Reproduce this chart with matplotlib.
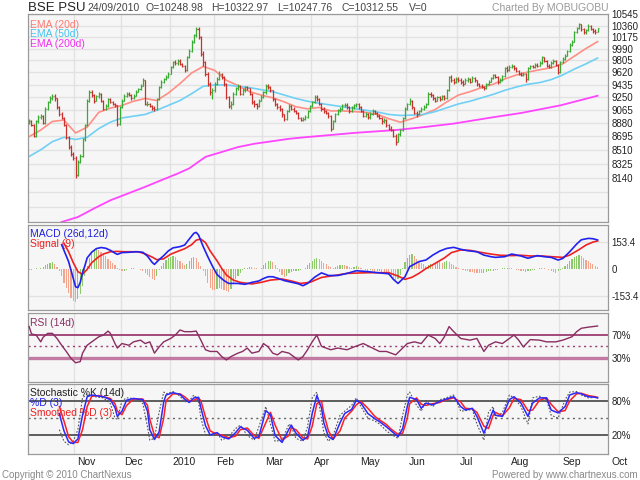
import matplotlib
matplotlib.use('Agg')
import matplotlib.pyplot as plt
from matplotlib.ticker import NullLocator
import matplotlib.transforms as mtransforms

plt.rcParams['font.family'] = ['Liberation Sans', 'DejaVu Sans']

W, H = 640, 480

# month labels and the first bar index of each month
months = ['Nov', 'Dec', '2010', 'Feb', 'Mar', 'Apr', 'May', 'Jun', 'Jul', 'Aug', 'Sep', 'Oct']
month_start = [20, 40, 61, 80, 101, 122, 142, 163, 185, 207, 229, 250]

# daily closes, one list per month (Oct 2009 .. 24 Sep 2010)
close_oct = [8900, 8850, 8700, 8900, 8960, 8980, 8880, 9080, 9180, 9230,
             9270, 9230, 9100, 9000, 8950, 8850, 8680, 8550, 8450, 8400]
close_nov = [8180, 8350, 8420, 8650, 8850, 9200, 9330, 9280, 9200, 9260,
             9300, 9200, 9080, 9120, 9220, 9180, 9150, 9130, 8860, 9100]
close_dec = [9200, 9270, 9300, 9280, 9230, 9270, 9330, 9370, 9420, 9500,
             9150, 9150, 9120, 9090, 9080, 9220, 9400, 9480, 9520, 9550, 9600]
close_jan = [9700, 9780, 9760, 9800, 9750, 9720, 9650, 9850, 9950, 10100,
             10200, 10300, 10180, 9900, 9780, 9600, 9450, 9320, 9350]
close_feb = [9450, 9520, 9600, 9550, 9450, 9250, 9120, 9150, 9300, 9380,
             9420, 9300, 9350, 9400, 9380, 9300, 9180, 9150, 9120, 9200, 9250]
close_mar = [9320, 9420, 9400, 9350, 9220, 9150, 9100, 9080, 9000, 8930,
             9050, 9120, 9080, 9050, 9020, 8950, 8920, 8930, 8960, 9050, 9120]
close_apr = [9180, 9250, 9220, 9150, 9080, 9050, 9020, 8980, 8800, 8900,
             9000, 9060, 9080, 9130, 9140, 9100, 9050, 9100, 9130, 9150]
close_may = [9100, 9050, 8980, 9000, 8960, 9000, 9050, 9020, 8980, 8950,
             8900, 8920, 8850, 8800, 8780, 8700, 8620, 8720, 8780, 8950, 9080]
close_jun = [9150, 9200, 9100, 9020, 9000, 9050, 9080, 9100, 9150, 9300, 9280,
             9230, 9200, 9250, 9220, 9260, 9230, 9350, 9550, 9500, 9480, 9520]
close_jul = [9500, 9480, 9450, 9500, 9520, 9480, 9530, 9500, 9440, 9420, 9400,
             9380, 9440, 9480, 9530, 9580, 9550, 9470, 9500, 9560, 9680, 9650]
close_aug = [9700, 9720, 9680, 9640, 9600, 9580, 9600, 9520, 9680, 9720, 9700,
             9740, 9720, 9760, 9850, 9800, 9720, 9700, 9760, 9800, 9740, 9620]
close_sep = [9780, 9830, 9880, 9950, 10050, 10100, 10250, 10320, 10380, 10300,
             10250, 10280, 10350, 10300, 10270, 10248.98, 10312.55]

high_oct = [8940, 8920, 8870, 8920, 8990, 9010, 8990, 9100, 9200, 9260,
            9300, 9290, 9240, 9120, 9030, 8960, 8860, 8700, 8570, 8480]
high_nov = [8420, 8370, 8450, 8670, 8870, 9220, 9360, 9350, 9290, 9280,
            9330, 9310, 9210, 9150, 9240, 9240, 9200, 9170, 9140, 9120]
high_dec = [9220, 9290, 9320, 9330, 9290, 9290, 9350, 9390, 9440, 9530,
            9510, 9190, 9170, 9140, 9120, 9240, 9420, 9500, 9540, 9580, 9630]
high_jan = [9720, 9800, 9810, 9830, 9820, 9770, 9730, 9870, 9980, 10120,
            10230, 10340, 10330, 10190, 9950, 9800, 9620, 9470, 9380]
high_feb = [9480, 9550, 9640, 9610, 9560, 9460, 9270, 9190, 9320, 9400,
            9440, 9430, 9380, 9420, 9420, 9390, 9310, 9210, 9170, 9220, 9280]
high_mar = [9340, 9450, 9450, 9420, 9360, 9240, 9170, 9130, 9090, 9010,
            9070, 9150, 9140, 9100, 9070, 9030, 8970, 8960, 8990, 9070, 9140]
high_apr = [9200, 9280, 9280, 9230, 9160, 9100, 9070, 9040, 8990, 8920,
            9020, 9080, 9110, 9150, 9170, 9160, 9120, 9120, 9150, 9170]
high_may = [9160, 9120, 9060, 9040, 9020, 9030, 9080, 9070, 9040, 9000,
            8960, 8950, 8930, 8870, 8830, 8790, 8720, 8740, 8800, 8970, 9100]
high_jun = [9170, 9230, 9210, 9110, 9050, 9070, 9110, 9130, 9170, 9320, 9330,
            9290, 9250, 9270, 9270, 9280, 9280, 9370, 9570, 9580, 9530, 9550]
high_jul = [9550, 9530, 9500, 9530, 9550, 9540, 9560, 9550, 9510, 9460, 9450,
            9420, 9460, 9500, 9550, 9600, 9600, 9560, 9530, 9580, 9700, 9710]
high_aug = [9730, 9750, 9740, 9700, 9660, 9620, 9630, 9610, 9700, 9740, 9740,
            9760, 9770, 9790, 9870, 9860, 9810, 9750, 9790, 9830, 9810, 9750]
high_sep = [9800, 9850, 9900, 9970, 10070, 10130, 10270, 10340, 10400, 10390,
            10320, 10310, 10380, 10370, 10320, 10300, 10322.97]

low_oct = [8860, 8830, 8680, 8690, 8880, 8940, 8860, 8870, 9060, 9160,
           9210, 9200, 9080, 8980, 8930, 8830, 8660, 8520, 8420, 8370]
low_nov = [8140, 8170, 8330, 8410, 8630, 8840, 9180, 9250, 9170, 9190,
           9240, 9180, 9060, 9060, 9110, 9160, 9130, 9110, 8840, 8850]
low_dec = [9090, 9190, 9250, 9260, 9210, 9220, 9260, 9320, 9360, 9410,
           9130, 9120, 9100, 9070, 9050, 9070, 9210, 9390, 9460, 9500, 9540]
low_jan = [9590, 9690, 9730, 9740, 9730, 9700, 9630, 9640, 9840, 9940,
           10080, 10180, 10150, 9880, 9720, 9560, 9420, 9280, 9220]
low_feb = [9330, 9430, 9500, 9520, 9420, 9220, 9090, 9080, 9140, 9280,
           9350, 9280, 9280, 9330, 9350, 9280, 9150, 9110, 9080, 9100, 9190]
low_mar = [9240, 9300, 9370, 9330, 9200, 9120, 9080, 9050, 8970, 8910,
           8920, 9040, 9060, 9030, 9000, 8930, 8900, 8900, 8920, 8950, 9040]
low_apr = [9100, 9170, 9190, 9130, 9050, 9020, 9000, 8950, 8770, 8790,
           8890, 8990, 9040, 9070, 9110, 9080, 9020, 9040, 9080, 9110]
low_may = [9080, 9030, 8960, 8960, 8940, 8940, 8990, 9000, 8960, 8930,
           8870, 8880, 8820, 8780, 8760, 8680, 8580, 8610, 8700, 8770, 8940]
low_jun = [9060, 9130, 9080, 9000, 8970, 8990, 9030, 9060, 9090, 9140, 9250,
           9210, 9180, 9190, 9200, 9210, 9210, 9220, 9340, 9470, 9450, 9460]
low_jul = [9470, 9450, 9420, 9440, 9480, 9460, 9470, 9480, 9420, 9400, 9380,
           9350, 9370, 9430, 9470, 9520, 9530, 9450, 9460, 9490, 9550, 9630]
low_aug = [9640, 9690, 9660, 9620, 9580, 9560, 9560, 9480, 9510, 9670, 9680,
           9690, 9700, 9710, 9750, 9780, 9700, 9680, 9690, 9750, 9720, 9590]
low_sep = [9610, 9770, 9810, 9870, 9940, 10030, 10090, 10240, 10300, 10270,
           10220, 10230, 10270, 10280, 10240, 10230, 10247.76]

first_open = 8880

closes = (close_oct + close_nov + close_dec + close_jan + close_feb + close_mar +
          close_apr + close_may + close_jun + close_jul + close_aug + close_sep)
highs = (high_oct + high_nov + high_dec + high_jan + high_feb + high_mar +
         high_apr + high_may + high_jun + high_jul + high_aug + high_sep)
lows = (low_oct + low_nov + low_dec + low_jan + low_feb + low_mar +
        low_apr + low_may + low_jun + low_jul + low_aug + low_sep)
opens = [first_open] + closes[:-1]

# moving averages
ema_idx = list(range(0, 246, 5))
ema20 = [8690, 8780, 8900, 8920, 8740, 8820, 9030, 9090, 9130, 9190,
         9230, 9200, 9310, 9450, 9610, 9710, 9650, 9500, 9420, 9330,
         9280, 9240, 9180, 9110, 9080, 9100, 9050, 9050, 9040, 9030,
         9000, 8940, 8890, 8940, 9000, 9070, 9180, 9280, 9330, 9390,
         9440, 9520, 9580, 9625, 9660, 9690, 9750, 9870, 9990, 10100]
ema50 = [8420, 8510, 8620, 8680, 8650, 8680, 8800, 8890, 8950, 8975,
         9000, 9060, 9130, 9200, 9300, 9410, 9430, 9430, 9410, 9390,
         9360, 9330, 9280, 9230, 9190, 9160, 9135, 9110, 9085, 9060,
         9035, 9000, 8985, 8990, 9000, 9040, 9095, 9150, 9190, 9240,
         9290, 9350, 9400, 9440, 9465, 9510, 9580, 9670, 9750, 9840]
ema200_idx = [14, 21, 28, 35, 43, 50, 57, 64, 69, 76, 83, 90, 97, 105, 112,
              119, 126, 140, 158, 170, 183, 200, 212, 229, 245]
ema200 = [7590, 7650, 7755, 7855, 7945, 8025, 8110, 8195, 8263, 8415, 8480,
          8546, 8591, 8627, 8659, 8681, 8700, 8740, 8780, 8820, 8870, 8960,
          9020, 9130, 9270]

price_ticks = [10545, 10360, 10175, 9990, 9805, 9620, 9435, 9250, 9065,
               8880, 8695, 8510, 8325, 8140]
extra_grid = [7955, 7770]

# MACD
macd_idx = [14, 17, 19, 20, 21, 22, 23, 24, 25, 27, 29, 31, 33, 35, 37, 38, 40, 43,
            46, 49, 51, 53, 54, 56, 58, 60, 62, 65, 67, 69, 71, 72, 73, 75, 77, 79,
            81, 84, 86, 90, 93, 96, 99, 101, 103, 105, 107, 110, 113, 116, 118, 120,
            123, 126, 129, 133, 137, 141, 146, 150, 155, 157, 159, 162, 164, 168,
            171, 174, 177, 180, 183, 186, 189, 193, 196, 199, 201, 205, 208, 212,
            215, 219, 222, 225, 228, 230, 233, 236, 238, 241, 243, 245]
macd_val = [140, 44, -51, -99, -104, -75, -20, 20, 65, 98, 118, 124, 120, 108, 92,
            85, 95, 97, 100, 97, 75, 40, 28, 55, 78, 105, 122, 129, 138, 172, 205,
            210, 195, 130, 72, 18, -30, -64, -80, -80, -85, -74, -66, -52, -42, -42,
            -50, -64, -73, -82, -93, -80, -45, -20, -35, -35, -23, -8, -13, -19, -25,
            -57, -80, -42, 15, 44, 53, 81, 104, 119, 125, 114, 106, 100, 81, 72, 68,
            72, 87, 76, 63, 78, 72, 68, 53, 62, 100, 144, 168, 176, 174, 167]
signal_idx = [15, 17, 19, 21, 23, 25, 27, 30, 32, 35, 38, 41, 44, 47, 50, 53, 55,
              58, 61, 64, 67, 70, 72, 74, 76, 78, 81, 83, 85, 88, 91, 96, 100, 104,
              109, 113, 117, 121, 126, 129, 133, 137, 146, 155, 159, 162, 165, 168,
              171, 175, 179, 182, 186, 190, 194, 199, 203, 208, 212, 216, 221, 225,
              230, 233, 237, 240, 243, 245]
signal_val = [148, 100, 38, -13, -28, 0, 38, 72, 87, 100, 102, 100, 100, 100, 88,
              70, 55, 60, 86, 102, 117, 140, 166, 172, 152, 105, 48, 5, -32, -61,
              -74, -83, -74, -61, -55, -66, -80, -74, -46, -40, -32, -23, -19, -19,
              -38, -57, -45, -23, 4, 34, 65, 95, 110, 108, 98, 87, 80, 78, 80, 76,
              76, 72, 68, 81, 112, 138, 155, 161]
macd_hist = [-3, -2, 2, 5, 3, 8, 15, 22, 30, 38,
             40, 30, 12, -10, -40, -75, -105, -135, -160, -180,
             -185, -170, -140, -95, -40, 20, 65, 95, 110, 115,
             112, 100, 88, 75, 60, 48, 35, 22, 8, -5,
             -12, -10, -4, 2, 5, 6, 4, 3, -2, -8,
             -20, -32, -45, -55, -62, -40, -5, 20, 38, 52,
             65, 72, 75, 70, 55, 45, 35, 25, 32, 50,
             65, 72, 62, 40, 20, -10, -40, -75, -105, -118,
             -120, -112, -105, -110, -120, -125, -128, -110, -80, -55,
             -35, -18, -5, 5, 10, 15, 14, 10, 6, 2,
             8, 22, 38, 46, 48, 40, 25, 5, -15, -30,
             -42, -35, -20, -15, -12, -10, -8, -5, 0, 8,
             22, 38, 50, 60, 64, 58, 45, 35, 28, 20,
             15, 10, 12, 18, 22, 25, 22, 18, 12, 10,
             14, 18, 15, 8, 2, -5, -8, -6, -10, -14,
             -12, -10, -14, -20, -25, -30, -40, -50, -58, -55,
             -30, 5, 40, 65, 80, 85, 75, 60, 45, 35,
             28, 20, 25, 30, 28, 32, 36, 40, 38, 42,
             45, 40, 32, 24, 16, 8, 2, -4, -8, -12,
             -14, -16, -18, -20, -22, -22, -18, -15, -12, -10,
             -8, -5, -2, 3, 6, 8, 10, 8, 5, 2,
             -2, -6, -10, -12, -14, -12, -8, -5, -2, 3,
             6, 8, 5, 2, -3, -8, -14, -18, -12, -3,
             8, 20, 32, 45, 58, 70, 78, 82, 75, 65,
             55, 45, 35, 28, 20, 14]

# RSI
rsi_idx = [0, 1, 3, 5, 6, 8, 10, 12, 14, 16, 18, 20, 22, 23, 25, 28, 30, 32, 34,
           35, 37, 38, 40, 43, 45, 48, 50, 52, 54, 56, 58, 61, 63, 65, 67, 70, 72,
           74, 76, 78, 81, 83, 85, 87, 90, 92, 94, 96, 99, 101, 103, 105, 107, 109,
           112, 114, 116, 118, 120, 122, 124, 126, 128, 130, 133, 137, 140, 144,
           147, 151, 154, 158, 161, 163, 166, 169, 172, 175, 177, 179, 181, 183,
           186, 190, 193, 196, 198, 201, 204, 206, 209, 211, 213, 216, 220, 223,
           227, 230, 234, 236, 238, 241, 243, 245]
rsi_val = [85, 72, 70, 58, 66, 73, 73, 64, 52, 41, 29, 21, 23, 38, 52, 61, 67, 70,
           77, 73, 55, 47, 55, 52, 58, 61, 55, 58, 38, 49, 58, 64, 70, 79, 76, 76,
           77, 61, 44, 41, 41, 32, 26, 32, 38, 41, 47, 38, 41, 55, 49, 38, 35, 41,
           38, 32, 26, 32, 44, 58, 70, 50, 47, 44, 47, 44, 49, 55, 49, 41, 41, 35,
           47, 55, 58, 55, 70, 64, 55, 67, 85, 76, 64, 61, 64, 41, 52, 58, 55, 61,
           70, 61, 49, 62, 61, 58, 58, 61, 67, 76, 82, 84, 85, 86]

# Stochastic
stoch_idx = [13, 15, 17, 19, 21, 23, 25, 27, 30, 32, 35, 37, 38, 40, 42, 45, 47,
             49, 51, 52, 54, 56, 58, 59, 62, 65, 67, 69, 71, 73, 74, 76, 78, 81,
             83, 86, 89, 91, 94, 97, 99, 102, 104, 106, 109, 112, 113, 115, 118,
             120, 122, 124, 126, 127, 129, 131, 134, 136, 139, 141, 143, 146, 149,
             151, 154, 156, 159, 161, 163, 164, 167, 169, 171, 174, 177, 179, 183,
             186, 188, 191, 193, 196, 198, 200, 201, 204, 207, 209, 212, 215, 217,
             220, 223, 225, 228, 231, 233, 236, 238, 241, 244, 245]
pct_k = [30, 10, 4, 10, 30, 85, 92, 88, 86, 85, 75, 50, 48, 80, 85, 84, 82, 75,
         35, 12, 15, 60, 95, 92, 96, 88, 78, 80, 90, 80, 50, 22, 20, 25, 12, 18,
         32, 38, 20, 12, 35, 70, 40, 10, 12, 40, 35, 15, 10, 35, 85, 95, 50, 25,
         10, 20, 55, 62, 72, 85, 70, 50, 45, 40, 28, 22, 15, 55, 90, 95, 72, 62,
         80, 70, 82, 84, 90, 62, 63, 65, 40, 12, 60, 70, 50, 60, 90, 85, 70, 40,
         85, 88, 82, 55, 50, 82, 95, 96, 90, 85, 86, 84]
pct_d = [58, 28, 9, 6, 14, 55, 87, 90, 88, 87, 82, 68, 53, 62, 81, 84, 83, 82,
         62, 30, 13, 26, 78, 90, 94, 91, 83, 77, 85, 86, 68, 37, 21, 25, 18, 14,
         25, 35, 29, 15, 18, 63, 56, 20, 8, 31, 38, 24, 12, 18, 58, 89, 68, 42,
         18, 13, 42, 58, 65, 81, 76, 58, 49, 44, 35, 28, 18, 32, 70, 86, 82, 67,
         76, 73, 79, 82, 87, 70, 64, 67, 53, 24, 44, 64, 55, 53, 82, 87, 76, 53,
         76, 85, 85, 64, 59, 70, 90, 94, 92, 87, 86, 85]
smooth_d = [70, 45, 18, 8, 8, 30, 70, 88, 89, 87, 84, 75, 62, 56, 72, 83, 83, 83,
            72, 48, 20, 16, 50, 80, 92, 92, 87, 80, 81, 85, 80, 52, 28, 22, 21, 16,
            19, 30, 33, 20, 15, 42, 60, 38, 12, 20, 33, 30, 16, 14, 36, 75, 80, 58,
            28, 14, 28, 50, 62, 73, 79, 67, 53, 47, 39, 31, 22, 24, 50, 75, 85, 74,
            72, 75, 77, 81, 85, 78, 67, 66, 60, 36, 32, 55, 60, 54, 68, 84, 82, 63,
            64, 81, 85, 74, 61, 63, 80, 92, 93, 89, 87, 86]


def rect(top, bottom):
    return [28 / W, 1 - bottom / H, 580 / W, (bottom - top) / H]


fig = plt.figure(figsize=(6.4, 4.8), dpi=100)
fig.patch.set_facecolor('white')

ax_p = fig.add_axes(rect(13.5, 222))
ax_m = fig.add_axes(rect(225, 310))
ax_r = fig.add_axes(rect(313, 382))
ax_s = fig.add_axes(rect(384, 454))

for ax in (ax_p, ax_m, ax_r, ax_s):
    ax.set_facecolor('#f6f6f6')
    ax.set_xlim(-0.5, 249.5)
    for s in ax.spines.values():
        s.set_color('#9a9a9a')
        s.set_linewidth(0.9)
    for m in month_start[:-1]:
        ax.axvline(m - 0.5, color='#e2e2e2', lw=1, zorder=0)
    ax.set_xticks([])
    ax.yaxis.tick_right()
    ax.tick_params(axis='y', length=0, pad=2.5, labelsize=7, labelcolor='#222222')

# price panel
x = list(range(len(closes)))
ax_p.set_yscale('log')
ax_p.set_ylim(7590, 10560)
ax_p.yaxis.set_minor_locator(NullLocator())
ax_p.set_yticks(price_ticks)
ax_p.set_yticklabels([str(t) for t in price_ticks])
for lvl in price_ticks + extra_grid:
    ax_p.axhline(lvl, color='#e2e2e2', lw=1, zorder=0)

bar_col = ['#3aaa35' if c >= o else '#c8302c' for o, c in zip(opens, closes)]
ax_p.vlines(x, lows, highs, colors=bar_col, lw=0.9, zorder=3)
ax_p.hlines(opens, [i - 0.45 for i in x], x, colors=bar_col, lw=0.9, zorder=3)
ax_p.hlines(closes, x, [i + 0.45 for i in x], colors=bar_col, lw=0.9, zorder=3)

ax_p.plot(ema_idx, ema20, color='#ff8f86', lw=1.2, zorder=2)
ax_p.plot(ema_idx, ema50, color='#70d0f5', lw=1.2, zorder=2)
ax_p.plot(ema200_idx, ema200, color='#ff45ff', lw=1.3, zorder=2)

ax_p.text(0.004, 0.97, 'EMA (20d)', transform=ax_p.transAxes, color='#ff7a72',
          fontsize=7.5, va='top')
ax_p.text(0.004, 0.925, 'EMA (50d)', transform=ax_p.transAxes, color='#45c3ee',
          fontsize=7.5, va='top')
ax_p.text(0.004, 0.878, 'EMA (200d)', transform=ax_p.transAxes, color='#f030f0',
          fontsize=7.5, va='top')

# MACD panel
ax_m.set_ylim(-231, 252)
ax_m.set_yticks([153.4, 0, -153.4])
ax_m.set_yticklabels(['153.4', '0', '-153.4'])
for lvl in (153.4, -153.4):
    ax_m.axhline(lvl, color='#e2e2e2', lw=1, zorder=0)
hist_col = ['#8cc96a' if (i > 0 and v > macd_hist[i - 1]) else '#f2a58c'
            for i, v in enumerate(macd_hist)]
ax_m.bar(x, macd_hist, width=0.5, color=hist_col, zorder=2)
ax_m.plot(signal_idx, signal_val, color='#ee2222', lw=1.2, zorder=3)
ax_m.plot(macd_idx, macd_val, color='#2222ee', lw=1.2, zorder=4)
ax_m.text(0.004, 0.95, 'MACD (26d,12d)', transform=ax_m.transAxes, color='#2020dd',
          fontsize=7.5, va='top')
ax_m.text(0.004, 0.83, 'Signal (9)', transform=ax_m.transAxes, color='#ee2020',
          fontsize=7.5, va='top')

# RSI panel
ax_r.set_ylim(-13, 109)
ax_r.set_yticks([70, 30])
ax_r.set_yticklabels(['70%', '30%'])
ax_r.axhline(70, color='#9b3c72', lw=1.3, zorder=2)
ax_r.axhline(30, color='#c27aa3', lw=2.4, zorder=2)
ax_r.axhline(50, color='#9b3c72', lw=1.0, ls=(0, (1.5, 2.5)), zorder=2)
ax_r.plot(rsi_idx, rsi_val, color='#8a2d62', lw=1.0, zorder=3)
ax_r.text(0.004, 0.93, 'RSI (14d)', transform=ax_r.transAxes, color='#8a2d62',
          fontsize=7.5, va='top')

# Stochastic panel
ax_s.set_ylim(-12, 109)
ax_s.set_yticks([80, 20])
ax_s.set_yticklabels(['80%', '20%'])
ax_s.axhline(80, color='#444444', lw=1.2, zorder=2)
ax_s.axhline(20, color='#444444', lw=1.2, zorder=2)
ax_s.axhline(50, color='#666666', lw=1.0, ls=(0, (1.5, 2.5)), zorder=2)
ax_s.plot(stoch_idx, pct_k, color='#555555', lw=0.8, ls=(0, (1.5, 1.5)), zorder=3)
ax_s.plot(stoch_idx, smooth_d, color='#ff2020', lw=1.1, zorder=4)
ax_s.plot(stoch_idx, pct_d, color='#2a2aff', lw=1.1, zorder=5)
ax_s.text(0.004, 0.95, 'Stochastic %K (14d)', transform=ax_s.transAxes,
          color='#222222', fontsize=7.5, va='top')
ax_s.text(0.004, 0.80, '%D (3)', transform=ax_s.transAxes, color='#2020ee',
          fontsize=7.5, va='top')
ax_s.text(0.004, 0.66, 'Smoothed %D (3)', transform=ax_s.transAxes, color='#ee2020',
          fontsize=7.5, va='top')

# month labels under the last panel
trans = mtransforms.blended_transform_factory(ax_s.transData, ax_s.transAxes)
for lab, m in zip(months, month_start):
    ax_s.text(m + 0.8, -0.115, lab, transform=trans, fontsize=7.5, color='#222222',
              va='center', ha='left', clip_on=False)

# header
fig.text(28 / W, 1 - 8 / H, 'BSE PSU', fontsize=9.5, color='#222222', va='center')
header = [(87, '24/09/2010'), (145, 'O=10248.98'), (211, 'H=10322.97'),
          (277, 'L=10247.76'), (342, 'C=10312.55'), (409, 'V=0')]
for px, s in header:
    fig.text(px / W, 1 - 8 / H, s, fontsize=7.5, color='#444444', va='center')
fig.text(608 / W, 1 - 8 / H, 'Charted By MOBUGOBU', fontsize=7.5, color='#999999',
         va='center', ha='right')

# footer
fig.text(2 / W, 1 - 475 / H, 'Copyright \u00a9 2010 ChartNexus', fontsize=7,
         color='#888888', va='center')
fig.text(638 / W, 1 - 475 / H, 'Powered by www.chartnexus.com', fontsize=7,
         color='#888888', va='center', ha='right')

fig.savefig('out.png', dpi=100)
